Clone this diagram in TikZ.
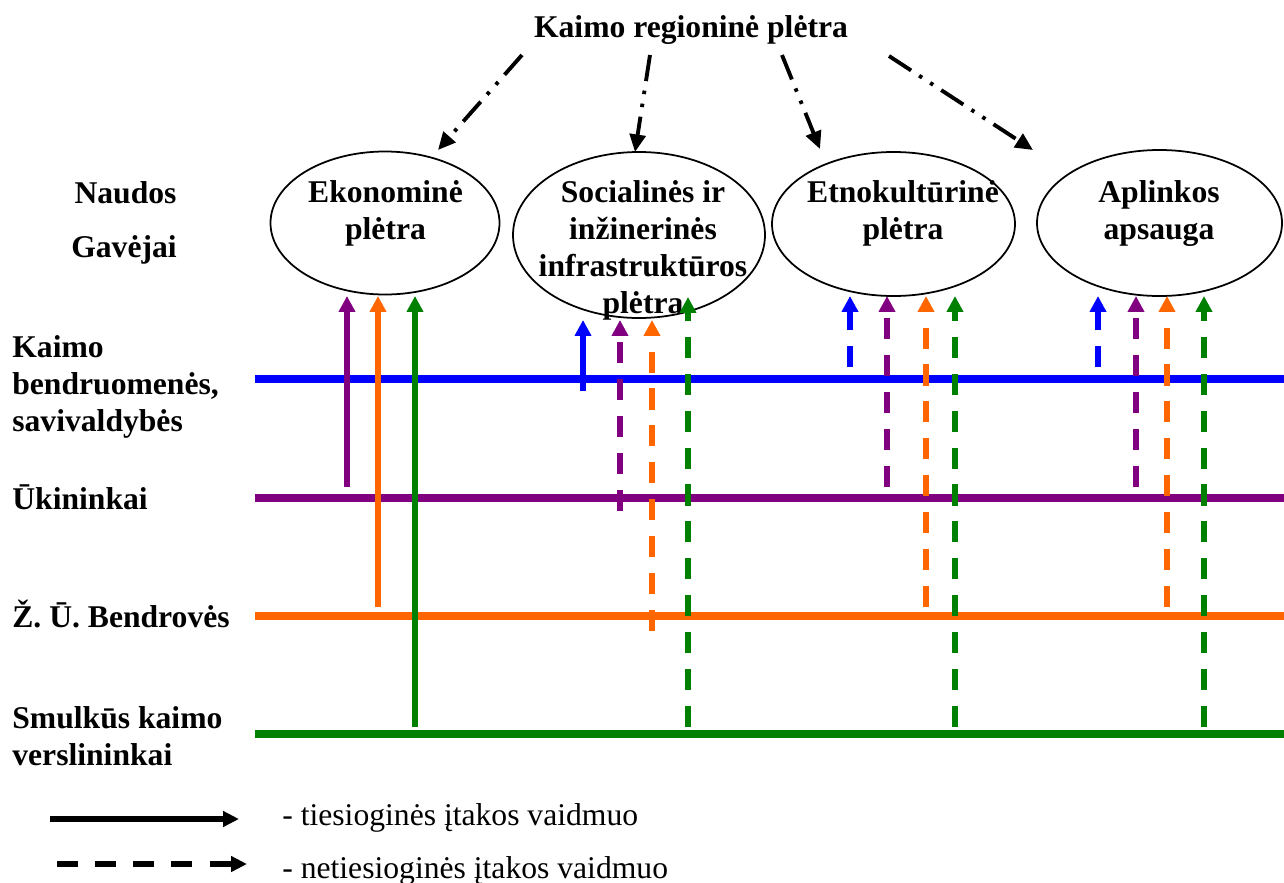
\documentclass[tikz,border=0pt]{standalone}
\usepackage{fontspec}
\setmainfont{Liberation Serif}
\usetikzlibrary{arrows.meta,shapes.geometric}
\definecolor{bendrBlue}{RGB}{0,0,255}
\definecolor{ukPurple}{RGB}{128,0,128}
\definecolor{zubOrange}{RGB}{255,102,0}
\definecolor{verslGreen}{RGB}{0,128,0}

\begin{document}
\begin{tikzpicture}[
  every node/.style={font=\fontsize{18}{21}\selectfont\bfseries, inner sep=0pt},
  goal/.style={ellipse, draw, line width=1pt},
  goaltext/.style={anchor=north, align=center},
  who/.style={anchor=north west, align=left},
  level/.style={line width=4.5pt},
  direct/.style={line width=3.1pt, -{Triangle[length=9pt,width=9pt]}},
  indirect/.style={direct, dash pattern=on 12pt off 9pt},
  feed/.style={line width=2.2pt, dash pattern=on 15pt off 5.5pt on 2pt off 5.5pt on 2pt off 5.5pt,
    -{Triangle[length=10pt,width=9pt]}},
  legtext/.style={anchor=base west, font=\fontsize{18}{21}\selectfont}
]
\useasboundingbox (0,0) rectangle (25.68,-17.66);
% Top and development goals
\node[anchor=base] (top) at (13.82,-0.74) {Kaimo regioninė plėtra};
\node[goal, minimum width=4.58cm, minimum height=2.86cm] (eko) at (7.70,-4.46) {};
\node[goal, minimum width=5.04cm, minimum height=3.32cm] (soc) at (12.78,-4.70) {};
\node[goal, minimum width=4.86cm, minimum height=2.88cm] (etno) at (17.87,-4.48) {};
\node[goal, minimum width=4.90cm, minimum height=2.92cm] (apl) at (23.19,-4.46) {};
\node[goaltext] (ekoTxt) at (7.71,-3.524) {\strut Ekonominė\\plėtra};
\node[goaltext] (socTxt) at (12.86,-3.524) {\strut Socialinės ir\\inžinerinės\\infrastruktūros\\plėtra};
\node[goaltext] (etnoTxt) at (18.06,-3.524) {\strut Etnokultūrinė\\plėtra};
\node[goaltext] (aplTxt) at (23.18,-3.524) {\strut Aplinkos\\apsauga};
\coordinate (f1) at (10.44,-1.10); \coordinate (g1) at (8.76,-3.00);
\coordinate (f2) at (13.00,-1.10); \coordinate (g2) at (12.70,-3.04);
\coordinate (f3) at (15.64,-1.10); \coordinate (g3) at (16.40,-2.98);
\coordinate (f4) at (17.78,-1.12); \coordinate (g4) at (20.66,-3.00);
\foreach \i in {1,...,4} \draw[feed] (f\i) -- (g\i);
% Beneficiaries
\node[anchor=base] (naudos) at (2.51,-4.06) {Naudos};
\node[anchor=base] (gavejai) at (2.48,-5.14) {Gavėjai};
\node[who] (bendr) at (0.24,-6.624) {\strut Kaimo\\bendruomenės,\\savivaldybės};
\node[who, anchor=base west] (ukin) at (0.24,-10.18) {Ūkininkai};
\node[who, anchor=base west] (zub) at (0.24,-12.54) {Ž. Ū. Bendrovės};
\node[who] (smulk) at (0.24,-14.044) {\strut Smulkūs kaimo\\verslininkai};
\foreach \y/\c/\n in {-7.58/bendrBlue/bendrL, -9.96/ukPurple/ukinL, -12.32/zubOrange/zubL, -14.68/verslGreen/smulkL} {
  \coordinate (\n a) at (5.1,\y);
  \coordinate (\n b) at (25.68,\y);
  \draw[level, \c] (\n a) -- (\n b);
}
% Influence arrows
\foreach \x/\yb/\yt/\c/\k [count=\i] in {
  6.94/-9.74/-5.92/ukPurple/direct, 7.56/-12.14/-5.92/zubOrange/direct, 8.30/-14.54/-5.92/verslGreen/direct,
  11.66/-7.82/-6.40/bendrBlue/direct, 12.40/-10.22/-6.40/ukPurple/indirect,
  13.04/-12.62/-6.40/zubOrange/indirect, 13.76/-14.54/-5.94/verslGreen/indirect,
  17.00/-7.34/-5.92/bendrBlue/indirect, 17.74/-9.74/-5.92/ukPurple/indirect,
  18.52/-12.14/-5.92/zubOrange/indirect, 19.10/-14.54/-5.92/verslGreen/indirect,
  21.96/-7.34/-5.92/bendrBlue/indirect, 22.72/-9.74/-5.92/ukPurple/indirect,
  23.34/-12.14/-5.92/zubOrange/indirect, 24.08/-14.54/-5.92/verslGreen/indirect} {
  \coordinate (b\i) at (\x,\yb);
  \coordinate (t\i) at (\x,\yt);
  \draw[\k, color=\c] (b\i) -- (t\i);
}
% Legend
\coordinate (l1a) at (1.00,-16.38); \coordinate (l1b) at (4.78,-16.38);
\coordinate (l2a) at (1.14,-17.28); \coordinate (l2b) at (4.94,-17.28);
\draw[line width=3.2pt, -{Triangle[length=9pt,width=8.5pt]}] (l1a) -- (l1b);
\draw[line width=3.2pt, dash pattern=on 12pt off 9.7pt, -{Triangle[length=9pt,width=8.5pt]}] (l2a) -- (l2b);
\node[legtext] (legDirect) at (5.64,-16.50) {- tiesioginės įtakos vaidmuo};
\node[legtext] (legIndirect) at (5.64,-17.56) {- netiesioginės įtakos vaidmuo};
\end{tikzpicture}
\end{document}
